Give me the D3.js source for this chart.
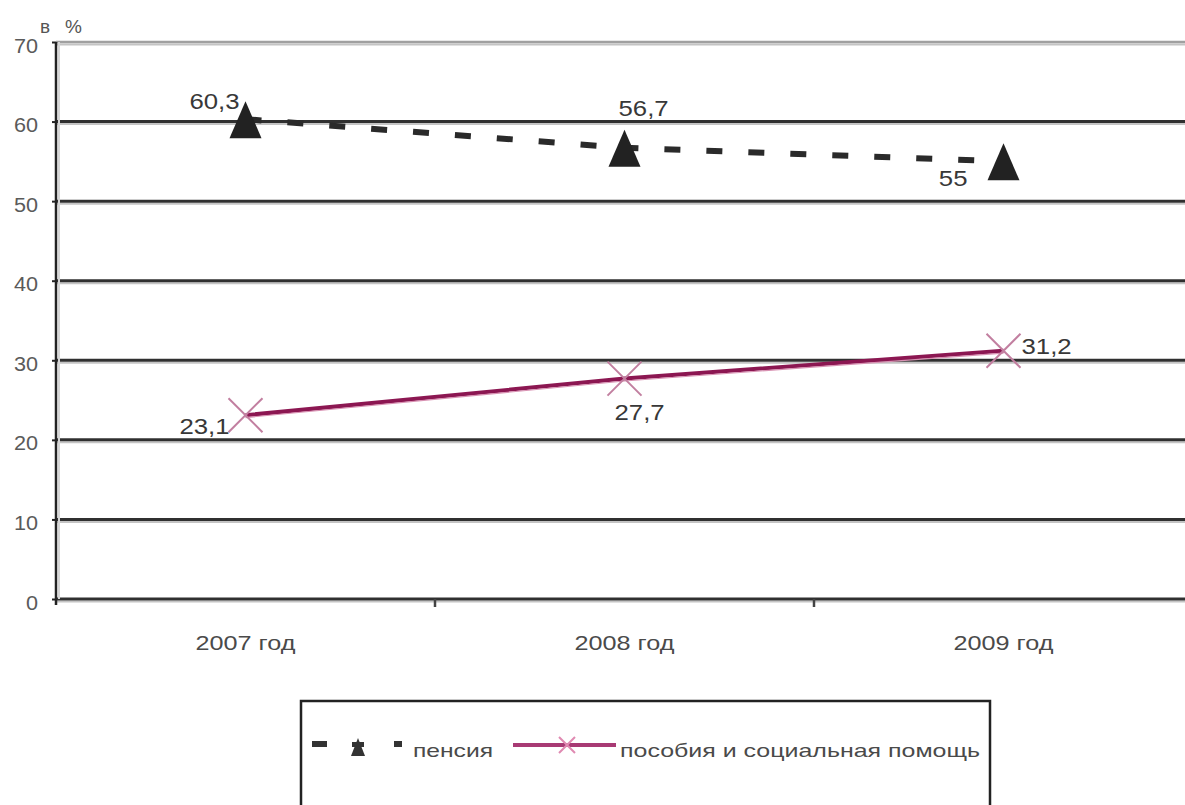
<!DOCTYPE html>
<html>
<head>
<meta charset="utf-8">
<script src="https://cdn.jsdelivr.net/npm/d3@7/dist/d3.min.js"></script>
<style>
  html, body { margin: 0; padding: 0; background: #fff; }
  svg { display: block; font-family: "Liberation Sans", Arial, sans-serif; }
</style>
</head>
<body>
<svg id="chart" width="1185" height="805"></svg>
<script>
// Доля доходов: пенсии и пособия, в %
const years = ["2007 год", "2008 год", "2009 год"];
const pension = [60.3, 56.7, 55];
const benefits = [23.1, 27.7, 31.2];
const pensionLabels = ["60,3", "56,7", "55"];
const benefitLabels = ["23,1", "27,7", "31,2"];
const yTicks = [0, 10, 20, 30, 40, 50, 60, 70];
const seriesNames = ["пенсия", "пособия и социальная помощь"];

const svg = d3.select("#chart");
const plotLeft = 56, plotRight = 1193, plotTop = 42, plotBottom = 599;

const x = d3.scaleBand().domain(years).range([plotLeft, plotRight]);
const y = d3.scaleLinear().domain([0, 70]).range([plotBottom, plotTop]);
const cx = d => x(d) + x.bandwidth() / 2;

// растягивает надпись по горизонтали в k раз
function widen(sel, k) {
  sel.each(function () {
    const w = this.getComputedTextLength();
    d3.select(this).attr("textLength", w * k).attr("lengthAdjust", "spacingAndGlyphs");
  });
}

// Сетка: тёмная линия с серой тенью снизу
const grid = svg.append("g");
yTicks.forEach(t => {
  grid.append("line").attr("x1", plotLeft).attr("x2", 1185)
    .attr("y1", y(t) + 2.5).attr("y2", y(t) + 2.5)
    .attr("stroke", "#c4c4c4").attr("stroke-width", 2);
  grid.append("line").attr("x1", plotLeft).attr("x2", 1185)
    .attr("y1", y(t)).attr("y2", y(t))
    .attr("stroke", t === 70 ? "#a0a0a0" : "#303030").attr("stroke-width", t === 70 ? 2.5 : 3);
});

// Вертикальная ось
svg.append("line").attr("x1", plotLeft + 3).attr("x2", plotLeft + 3)
  .attr("y1", plotTop).attr("y2", plotBottom).attr("stroke", "#d6d6d6").attr("stroke-width", 2);
svg.append("line").attr("x1", plotLeft).attr("x2", plotLeft)
  .attr("y1", plotTop).attr("y2", plotBottom + 6).attr("stroke", "#222").attr("stroke-width", 2.5);

const yAxis = d3.axisLeft(y).tickValues(yTicks).tickSize(4).tickPadding(14);
const ya = svg.append("g").attr("transform", `translate(${plotLeft},0)`).call(yAxis);
ya.select(".domain").remove();
ya.selectAll(".tick line").attr("stroke", "#222").attr("stroke-width", 2);
ya.selectAll(".tick text").attr("font-size", 20).attr("fill", "#5a5a5a").attr("dy", "0.5em")
  .attr("font-family", "Liberation Sans, Arial, sans-serif").call(widen, 1.08);

// Нижние деления категорий
const bandEdges = years.map(d => x(d)).concat([x(years[2]) + x.bandwidth()]);
svg.append("g").selectAll("line").data(bandEdges.slice(1)).join("line")
  .attr("x1", d => d).attr("x2", d => d)
  .attr("y1", plotBottom).attr("y2", plotBottom + 8)
  .attr("stroke", "#444").attr("stroke-width", 2.5);

const xAxis = d3.axisBottom(x).tickSize(0).tickPadding(36);
const xa = svg.append("g").attr("transform", `translate(0,${plotBottom})`).call(xAxis);
xa.select(".domain").remove();
xa.selectAll(".tick text").attr("font-size", 21).attr("fill", "#4a4a4a")
  .attr("font-family", "Liberation Sans, Arial, sans-serif").call(widen, 1.2);

svg.append("text").attr("x", 40).attr("y", 33).attr("font-size", 19).attr("fill", "#555")
  .attr("textLength", 42).attr("lengthAdjust", "spacing").text("в %");

// Линия пенсий (пунктир)
const line = d3.line().x((d, i) => cx(years[i])).y(d => y(d));
svg.append("path").datum(pension).attr("d", line)
  .attr("fill", "none").attr("stroke", "#2a2a2a").attr("stroke-width", 6)
  .attr("stroke-dasharray", "16 26").attr("stroke-dashoffset", 0);

// Линия пособий
svg.append("path").datum(benefits).attr("d", line)
  .attr("fill", "none").attr("stroke", "#8c1752").attr("stroke-width", 4);
svg.append("path").datum(benefits).attr("d", line)
  .attr("fill", "none").attr("stroke", "#d891b2").attr("stroke-width", 1.2).attr("transform", "translate(0,2.4)");

// Маркеры: треугольники
const triPath = "M0,-19L16,18L-16,18Z";
svg.append("g").selectAll("path").data(pension).join("path")
  .attr("d", triPath).attr("fill", "#222")
  .attr("transform", (d, i) => `translate(${cx(years[i])},${y(d) + 1})`);

// Маркеры: косые кресты
const crosses = svg.append("g");
benefits.forEach((d, i) => {
  const px = cx(years[i]), py = y(d), r = 17;
  crosses.append("path")
    .attr("d", `M${px - r},${py - r}L${px + r},${py + r}M${px - r},${py + r}L${px + r},${py - r}`)
    .attr("stroke", "#c27fa0").attr("stroke-width", 2).attr("fill", "none");
});

// Подписи значений
const lab = svg.append("g").attr("font-size", 22).attr("fill", "#383838");
const pOff = [[-6, -10, "end"], [-6, -32, "start"], [-36, 25, "end"]];
pension.forEach((d, i) => {
  lab.append("text").attr("x", cx(years[i]) + pOff[i][0]).attr("y", y(d) + pOff[i][1])
    .attr("text-anchor", pOff[i][2]).text(pensionLabels[i]);
});
const bOff = [[-16, 19, "end"], [-10, 41, "start"], [18, 3, "start"]];
benefits.forEach((d, i) => {
  lab.append("text").attr("x", cx(years[i]) + bOff[i][0]).attr("y", y(d) + bOff[i][1])
    .attr("text-anchor", bOff[i][2]).text(benefitLabels[i]);
});
lab.selectAll("text").call(widen, 1.17);

// Легенда
const lg = svg.append("g");
lg.append("rect").attr("x", 301).attr("y", 701).attr("width", 689).attr("height", 130)
  .attr("fill", "#fff").attr("stroke", "#222").attr("stroke-width", 2.5);
const ly = 745;
lg.append("line").attr("x1", 312).attr("x2", 327).attr("y1", ly - 1).attr("y2", ly - 1)
  .attr("stroke", "#333").attr("stroke-width", 6);
lg.append("path").attr("d", "M0,-9L7,9L-7,9Z")
  .attr("transform", `translate(358,${ly + 2})`).attr("fill", "#333");
lg.append("rect").attr("x", 352).attr("y", ly - 3).attr("width", 12).attr("height", 5).attr("fill", "#333");
lg.append("rect").attr("x", 394).attr("y", ly - 4).attr("width", 8).attr("height", 6).attr("fill", "#333");
lg.append("text").attr("x", 413).attr("y", ly + 12).attr("font-size", 19).attr("fill", "#4a4a4a")
  .attr("textLength", 80).attr("lengthAdjust", "spacingAndGlyphs")
  .text(seriesNames[0]);
lg.append("line").attr("x1", 513).attr("x2", 616).attr("y1", ly).attr("y2", ly)
  .attr("stroke", "#a83a74").attr("stroke-width", 4);
lg.append("path").attr("d", `M559,${ly - 8}L575,${ly + 8}M559,${ly + 8}L575,${ly - 8}`)
  .attr("stroke", "#e08ab2").attr("stroke-width", 2);
lg.append("text").attr("x", 620).attr("y", ly + 12).attr("font-size", 19).attr("fill", "#4a4a4a")
  .attr("textLength", 360).attr("lengthAdjust", "spacingAndGlyphs")
  .text(seriesNames[1]);
</script>
</body>
</html>
